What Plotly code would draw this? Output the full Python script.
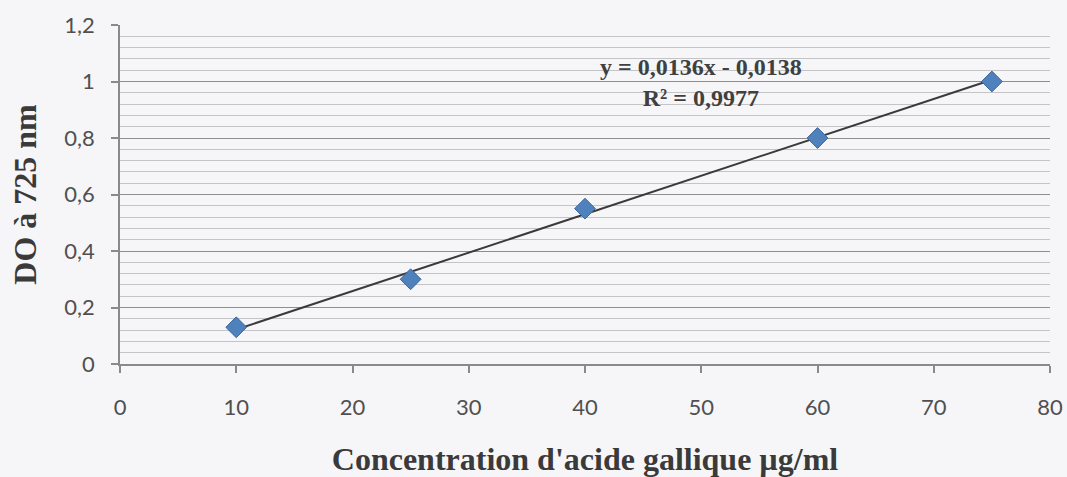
import plotly.graph_objects as go

# Gallic acid calibration: concentration (µg/ml) vs absorbance at 725 nm
concentration = [10, 25, 40, 60, 75]
absorbance = [0.13, 0.30, 0.55, 0.80, 1.00]

# Linear trend line coefficients and fit quality
slope = 0.0136
intercept = -0.0138
r_squared = 0.9977

x_ticks = [0, 10, 20, 30, 40, 50, 60, 70, 80]
y_ticks = [0, 0.2, 0.4, 0.6, 0.8, 1.0, 1.2]

fmt = lambda v: f"{v:.4f}".replace(".", ",")
eq_text = f"<b>y = {fmt(slope)}x - {fmt(abs(intercept))}<br>R² = {fmt(r_squared)}</b>"

trend_x = [min(concentration), max(concentration)]
trend_y = [slope * x + intercept for x in trend_x]

bg = "#f6f6f9"
axis_grey = "#8a8a8a"
tick_font = dict(family="Lato", size=22, color="#505050")
title_font = dict(family="Liberation Serif", size=32, color="#3a3a3a")

fig = go.Figure()

fig.add_trace(go.Scatter(
    x=trend_x, y=trend_y, mode="lines",
    line=dict(color="#3a3a3a", width=2),
    showlegend=False, hoverinfo="skip",
))
fig.add_trace(go.Scatter(
    x=concentration, y=absorbance, mode="markers",
    marker=dict(symbol="diamond", size=16, color="#4f81bd",
                line=dict(color="#3c679c", width=1)),
    showlegend=False,
))

fig.add_annotation(
    x=50.0, y=0.998, xref="x", yref="y", text=eq_text, showarrow=False,
    font=dict(family="Liberation Serif", size=24, color="#404040"),
    align="center",
)

fig.update_layout(
    width=1067, height=477,
    margin=dict(l=120, r=17, t=25, b=113),
    paper_bgcolor=bg, plot_bgcolor=bg,
    separators=", ",
    xaxis=dict(
        range=[0, 80], tickvals=x_ticks, automargin=False,
        showgrid=False, zeroline=False,
        showline=True, linecolor=axis_grey, linewidth=1.5,
        ticks="outside", ticklen=7, tickcolor=axis_grey, tickwidth=1.5,
        ticklabelstandoff=16,
        tickfont=tick_font,
        title=dict(text="<b>Concentration d'acide gallique µg/ml</b>",
                   font=title_font, standoff=30),
    ),
    yaxis=dict(
        range=[0, 1.2], tickvals=y_ticks, automargin=False,
        showgrid=True, gridcolor="#8e8e8e", gridwidth=1.3,
        minor=dict(dtick=0.04, showgrid=True, gridcolor="#c4c4c6", gridwidth=1),
        zeroline=False,
        showline=True, linecolor=axis_grey, linewidth=1.5,
        ticks="outside", ticklen=7, tickcolor=axis_grey, tickwidth=1.5,
        ticklabelstandoff=12,
        tickfont=tick_font,
        title=dict(text="<b>DO à 725 nm</b>", font=title_font, standoff=18),
    ),
)

fig.write_html("out.html")
